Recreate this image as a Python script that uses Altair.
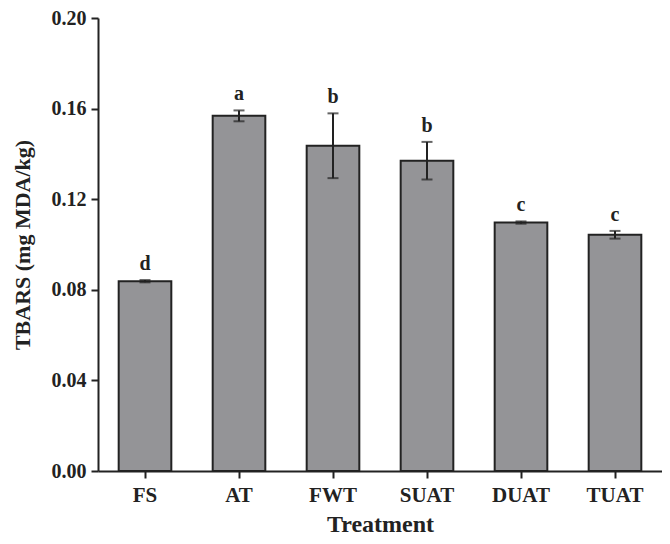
import altair as alt
import pandas as pd

treatments = ["FS", "AT", "FWT", "SUAT", "DUAT", "TUAT"]
means = [0.0838, 0.1568, 0.1436, 0.1370, 0.1097, 0.1043]
errors = [0.0005, 0.0024, 0.0143, 0.0083, 0.0005, 0.0017]
letters = ["d", "a", "b", "b", "c", "c"]
y_ticks = [0.00, 0.04, 0.08, 0.12, 0.16, 0.20]

df = pd.DataFrame({
    "Treatment": treatments,
    "mean": means,
    "err": errors,
    "letter": letters,
})
df["lo"] = df["mean"] - df["err"]
df["hi"] = df["mean"] + df["err"]

FONT = "Liberation Serif"
INK = "#222222"

x = alt.X(
    "Treatment:N",
    sort=treatments,
    scale=alt.Scale(paddingInner=0.44, paddingOuter=0.22),
    axis=alt.Axis(
        title="Treatment",
        labelAngle=0,
        labelFontSize=21,
        titleFontSize=24,
        labelPadding=6,
        titlePadding=7,
    ),
)

y_scale = alt.Scale(domain=[0, 0.2], nice=False, zero=True)

base = alt.Chart(df)

bars = base.mark_bar(color="#949497", stroke=INK, strokeWidth=2).encode(
    x=x,
    y=alt.Y(
        "mean:Q",
        scale=y_scale,
        axis=alt.Axis(
            title="TBARS (mg MDA/kg)",
            values=y_ticks,
            format=".2f",
            labelFontSize=20,
            titleFontSize=22,
            labelPadding=5,
            titlePadding=17,
        ),
    ),
)

rules = base.mark_rule(color=INK, strokeWidth=2).encode(
    x=alt.X("Treatment:N", sort=treatments),
    y=alt.Y("lo:Q", scale=y_scale),
    y2="hi:Q",
)

caps_hi = base.mark_tick(color=INK, thickness=2, size=11).encode(
    x=alt.X("Treatment:N", sort=treatments),
    y=alt.Y("hi:Q", scale=y_scale),
)
caps_lo = base.mark_tick(color=INK, thickness=2, size=11).encode(
    x=alt.X("Treatment:N", sort=treatments),
    y=alt.Y("lo:Q", scale=y_scale),
)

labels = base.mark_text(
    font=FONT, fontWeight="bold", fontSize=20, color=INK,
    baseline="bottom", dy=-6,
).encode(
    x=alt.X("Treatment:N", sort=treatments),
    y=alt.Y("hi:Q", scale=y_scale),
    text="letter:N",
)

chart = (
    alt.layer(bars, rules, caps_hi, caps_lo, labels)
    .properties(
        width=564,
        height=453,
        autosize=alt.AutoSizeParams(type="none"),
        padding={"left": 90, "top": 10, "right": 0, "bottom": 64},
    )
    .configure_view(stroke=None)
    .configure_axis(
        grid=False,
        domainColor=INK,
        domainWidth=2,
        tickColor=INK,
        tickWidth=2,
        tickSize=7,
        labelFont=FONT,
        titleFont=FONT,
        labelFontWeight="bold",
        titleFontWeight="bold",
        labelColor=INK,
        titleColor=INK,
    )
)

chart.save("out.html", embed_options={"renderer": "svg", "actions": False})
